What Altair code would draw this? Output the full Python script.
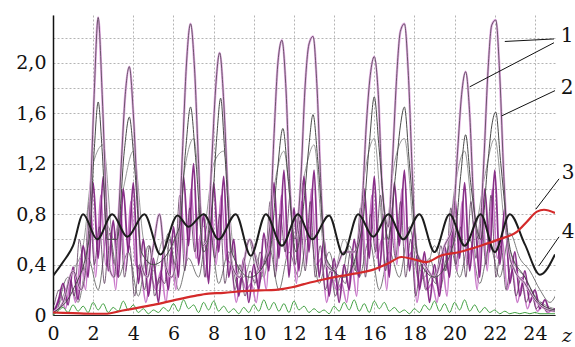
import altair as alt
import pandas as pd

# ---------------- data ----------------
# curve 1: tallest peaks
c1_z = [0, 0.5, 1.0, 1.4, 1.65, 1.85, 2.05, 2.25, 2.45, 2.65, 2.85, 3.05, 3.2, 3.4, 3.6, 3.8, 4.0, 4.2, 4.4,
        4.7, 5.0, 5.3, 5.6, 5.9, 6.25, 6.45, 6.65, 6.85, 7.05, 7.25, 7.45, 7.7, 7.9, 8.1, 8.3, 8.5, 8.7, 8.9,
        9.3, 9.8, 10.3, 10.8, 11.0, 11.2, 11.4, 11.6, 11.8, 12.05, 12.35, 12.55, 12.75, 12.95, 13.15, 13.35,
        13.6, 14.0, 14.5, 15.0, 15.4, 15.6, 15.8, 16.0, 16.2, 16.4, 16.7, 16.9, 17.1, 17.3, 17.5, 17.7, 17.9,
        18.1, 18.5, 19.0, 19.5, 19.9, 20.15, 20.35, 20.55, 20.75, 20.95, 21.2, 21.45, 21.65, 21.85, 22.05,
        22.25, 22.45, 22.7, 23.0, 23.5, 24.0, 24.5, 25.0]
c1_v = [0.02, 0.1, 0.35, 0.2, 0.4, 0.9, 1.75, 2.36, 1.75, 0.9, 0.35, 0.3, 0.6, 1.2, 1.75, 1.97, 1.6, 0.95, 0.4,
        0.3, 0.55, 0.8, 0.4, 0.3, 0.6, 1.3, 2.0, 2.31, 1.95, 1.2, 0.55, 0.6, 1.2, 1.8, 2.08, 1.7, 1.0, 0.4,
        0.3, 0.6, 0.35, 0.7, 1.4, 2.0, 2.18, 1.8, 1.0, 0.6, 1.1, 1.8, 2.15, 2.21, 1.8, 1.0,
        0.4, 0.35, 0.5, 0.5, 0.9, 1.5, 1.9, 2.05, 1.75, 1.0, 0.7, 1.2, 1.85, 2.25, 2.31, 1.9, 1.1,
        0.5, 0.4, 0.3, 0.55, 0.7, 1.3, 1.75, 1.93, 1.6, 0.9, 0.6, 1.2, 1.9, 2.3, 2.34,
        1.9, 1.1, 0.5, 0.35, 0.25, 0.12, 0.05, 0.03]

# curve 2: secondary peaks
c2_z = [0, 1.0, 1.8, 2.05, 2.25, 2.45, 2.7, 3.2, 3.55, 3.8, 4.05, 4.4, 5.0, 6.3, 6.6, 6.85, 7.1, 7.5, 7.9,
        8.15, 8.35, 8.55, 8.9, 9.8, 10.8, 11.15, 11.45, 11.7, 12.1, 12.5, 12.75, 12.95, 13.2, 13.6, 14.5,
        15.4, 15.75, 16.0, 16.25, 16.7, 17.05, 17.3, 17.5, 17.75, 18.2, 19.0, 20.0, 20.3, 20.55, 20.8, 21.3,
        21.65, 21.85, 22.05, 22.3, 22.8, 23.5, 24.2, 25.0]
c2_v = [0.02, 0.2, 0.6, 1.3, 1.69, 1.3, 0.6, 0.6, 1.3, 1.57, 1.2, 0.5, 0.4, 0.7, 1.3, 1.65, 1.25, 0.5, 0.8,
        1.4, 1.72, 1.3, 0.5, 0.3, 0.5, 1.1, 1.48, 1.1, 0.5, 0.9, 1.35, 1.59, 1.2, 0.45, 0.3,
        0.7, 1.35, 1.73, 1.3, 0.6, 1.1, 1.5, 1.65, 1.2, 0.45, 0.3, 0.6, 1.1, 1.43, 1.05, 0.6,
        1.2, 1.5, 1.61, 1.2, 0.5, 0.3, 0.1, 0.04]

# dense purple oscillations (step 0.25 from 0)
p1_v = [0.02, 0.10, 0.25, 0.08, 0.38, 0.12, 0.55, 0.30, 1.05, 0.45, 1.10, 0.35, 0.75, 0.30, 1.00, 0.50,
        1.05, 0.25, 0.60, 0.15, 0.45, 0.10, 0.50, 0.20, 0.70, 0.30, 1.10, 0.55, 1.20, 0.40, 0.80, 0.25,
        1.05, 0.50, 1.10, 0.30, 0.60, 0.15, 0.45, 0.10, 0.40, 0.20, 0.65, 0.35, 1.05, 0.45, 1.15, 0.30,
        0.85, 0.35, 1.10, 0.50, 1.15, 0.30, 0.60, 0.15, 0.45, 0.10, 0.40, 0.20, 0.60, 0.30, 1.00, 0.45,
        1.10, 0.35, 0.80, 0.30, 1.05, 0.55, 1.15, 0.35, 0.70, 0.20, 0.50, 0.10, 0.40, 0.15, 0.55, 0.30,
        0.95, 0.45, 1.05, 0.35, 0.75, 0.30, 1.00, 0.50, 1.15, 0.40, 0.85, 0.25, 0.50, 0.15, 0.35, 0.10,
        0.20, 0.05, 0.12, 0.03, 0.05]
# dense magenta oscillations (step 0.25 from 0.125)
p2_v = [0.05, 0.15, 0.05, 0.28, 0.10, 0.45, 0.20, 0.85, 0.30, 0.95, 0.40, 0.55, 0.20, 0.80, 0.35, 0.90,
        0.40, 0.35, 0.10, 0.30, 0.20, 0.35, 0.10, 0.50, 0.20, 0.90, 0.40, 1.00, 0.45, 0.65, 0.30, 0.85,
        0.40, 0.95, 0.45, 0.40, 0.10, 0.30, 0.20, 0.25, 0.10, 0.45, 0.20, 0.85, 0.35, 0.95, 0.45, 0.65,
        0.25, 0.90, 0.40, 1.00, 0.40, 0.45, 0.10, 0.30, 0.20, 0.25, 0.10, 0.40, 0.15, 0.80, 0.35, 0.95,
        0.45, 0.60, 0.20, 0.85, 0.40, 1.00, 0.45, 0.50, 0.10, 0.35, 0.20, 0.25, 0.10, 0.40, 0.15, 0.80,
        0.35, 0.90, 0.40, 0.55, 0.20, 0.85, 0.35, 1.00, 0.45, 0.60, 0.20, 0.35, 0.10, 0.25, 0.05, 0.15,
        0.03, 0.08, 0.02, 0.04]
# dense dark oscillations (step 0.25 from 0.0625)
p3_v = [0.08, 0.20, 0.10, 0.30, 0.15, 0.60, 0.35, 0.90, 0.40, 0.70, 0.25, 0.65, 0.40, 0.85, 0.30, 0.55,
        0.15, 0.40, 0.20, 0.55, 0.15, 0.30, 0.25, 0.60, 0.40, 0.95, 0.35, 0.85, 0.50, 0.90, 0.30, 0.70,
        0.45, 0.80, 0.25, 0.50, 0.20, 0.40, 0.15, 0.35, 0.25, 0.50, 0.40, 0.90, 0.30, 0.80, 0.50, 0.95,
        0.40, 0.75, 0.35, 0.90, 0.30, 0.55, 0.20, 0.35, 0.15, 0.30, 0.25, 0.50, 0.35, 0.85, 0.30, 0.80,
        0.50, 0.95, 0.35, 0.70, 0.45, 0.90, 0.30, 0.60, 0.15, 0.40, 0.20, 0.30, 0.25, 0.55, 0.35, 0.85,
        0.40, 0.70, 0.30, 0.90, 0.45, 0.80, 0.40, 0.95, 0.30, 0.55, 0.20, 0.40, 0.15, 0.30, 0.10, 0.20,
        0.05, 0.10, 0.03, 0.05]
# grey humps (step 0.5)
g1_v = [0.0, 0.15, 0.35, 0.55, 1.2, 1.35, 0.6, 1.0, 1.3, 0.6, 0.35, 0.6, 0.4, 1.1, 1.4, 0.7, 1.2, 1.3,
        0.5, 0.3, 0.5, 0.3, 1.0, 1.3, 0.7, 1.1, 1.35, 0.5, 0.35, 0.6, 0.4, 1.1, 1.4, 0.6, 1.2, 1.4, 0.6,
        0.3, 0.55, 0.35, 1.0, 1.3, 0.7, 1.1, 1.4, 0.7, 0.4, 0.3, 0.15, 0.08, 0.05]
g2_v = [0.05, 0.3, 0.1, 0.45, 0.2, 0.7, 0.3, 0.5, 0.15, 0.55, 0.25, 0.65, 0.2, 0.45, 0.3, 0.75, 0.25,
        0.5, 0.2, 0.6, 0.25, 0.55, 0.2, 0.5, 0.3, 0.7, 0.25, 0.5, 0.2, 0.55, 0.3, 0.6, 0.2, 0.5, 0.3,
        0.7, 0.25, 0.45, 0.2, 0.55, 0.3, 0.6, 0.25, 0.55, 0.3, 0.65, 0.45, 0.35, 0.2, 0.1, 0.25]
# green low curve (step 0.25)
gr_v = [0.00, 0.03, 0.06, 0.02, 0.08, 0.03, 0.07, 0.02, 0.10, 0.04, 0.09, 0.02, 0.06, 0.03, 0.11, 0.04,
        0.08, 0.02, 0.05, 0.01, 0.04, 0.02, 0.06, 0.03, 0.09, 0.03, 0.12, 0.05, 0.08, 0.02, 0.10, 0.04,
        0.11, 0.03, 0.07, 0.02, 0.05, 0.01, 0.06, 0.02, 0.08, 0.03, 0.12, 0.04, 0.10, 0.03, 0.09, 0.02,
        0.11, 0.04, 0.07, 0.02, 0.05, 0.02, 0.04, 0.01, 0.07, 0.03, 0.10, 0.04, 0.12, 0.03, 0.09, 0.02,
        0.11, 0.05, 0.10, 0.03, 0.06, 0.02, 0.04, 0.01, 0.05, 0.02, 0.08, 0.04, 0.11, 0.03, 0.09, 0.02,
        0.10, 0.04, 0.12, 0.03, 0.08, 0.02, 0.06, 0.02, 0.04, 0.01, 0.03, 0.01, 0.02, 0.01, 0.02, 0.01,
        0.02, 0.01, 0.01, 0.01, 0.01]

# curve 4: thick black oscillation
c4_z = [0, 0.5, 1.0, 1.5, 2.2, 2.95, 3.7, 4.55, 5.35, 6.2, 6.75, 7.5, 8.25, 9.1, 9.85, 10.6, 11.4, 12.2,
        12.9, 13.75, 14.45, 15.2, 15.95, 16.7, 17.45, 18.25, 19.0, 19.75, 20.5, 21.3, 22.0, 22.75, 23.5,
        24.25, 25.0]
c4_v = [0.31, 0.42, 0.55, 0.80, 0.60, 0.80, 0.62, 0.80, 0.48, 0.79, 0.70, 0.80, 0.60, 0.80, 0.47, 0.80,
        0.55, 0.80, 0.60, 0.79, 0.48, 0.80, 0.62, 0.80, 0.60, 0.80, 0.50, 0.80, 0.55, 0.80, 0.50, 0.80,
        0.56, 0.32, 0.48]

# curve 3: red rising
c3_z = [0, 1, 2, 2.7, 3.3, 4, 5, 6.1, 7, 7.75, 8.5, 9.45, 10.3, 11.1, 11.9, 12.5, 13.4, 14.35, 15.1,
        15.95, 16.7, 17.35, 18.0, 18.6, 19.3, 20.25, 21.3, 22.2, 23.1, 23.6, 24.1, 24.45, 25.0]
c3_v = [0.02, 0.015, 0.01, 0.01, 0.03, 0.05, 0.08, 0.12, 0.15, 0.17, 0.175, 0.19, 0.195, 0.2, 0.22,
        0.245, 0.28, 0.31, 0.33, 0.36, 0.41, 0.46, 0.44, 0.42, 0.47, 0.5, 0.55, 0.6, 0.66, 0.74, 0.82,
        0.835, 0.81]

# annotation labels and leader lines
lab_text = ["1", "2", "3", "4"]
lab_z = [25.6, 25.6, 25.65, 25.65]
lab_y = [2.21, 1.80, 1.13, 0.66]
lead_z1 = [24.95, 24.95, 25.0, 25.2, 25.2]
lead_y1 = [2.19, 2.16, 1.78, 1.08, 0.62]
lead_z2 = [22.5, 20.75, 22.35, 24.05, 24.2]
lead_y2 = [2.17, 1.81, 1.58, 0.84, 0.39]

x_ticks = [0, 2, 4, 6, 8, 10, 12, 14, 16, 18, 20, 22, 24]
y_ticks = [0, 0.2, 0.4, 0.6, 0.8, 1.0, 1.2, 1.4, 1.6, 1.8, 2.0, 2.2]

# ---------------- chart ----------------
FONT = "DejaVu Serif"
xs = alt.Scale(domain=[0, 25], nice=False, zero=False)
ys = alt.Scale(domain=[0, 2.38], nice=False)

x_enc = alt.X("z:Q", scale=xs, axis=alt.Axis(
    values=x_ticks, title=None, ticks=False, grid=True, gridColor="#b4b4b4", gridDash=[2, 2],
    gridWidth=1, domainColor="#222", domainWidth=1.2, labelFont=FONT, labelFontSize=19,
    labelColor="#111", labelPadding=9, labelFlush=False))
y_enc = alt.Y("v:Q", scale=ys, axis=alt.Axis(
    values=y_ticks, title=None, ticks=False, grid=True, gridColor="#b4b4b4", gridDash=[2, 2],
    gridWidth=1, domainColor="#111", domainWidth=1.5, labelFont=FONT, labelFontSize=19,
    labelColor="#111", labelPadding=7,
    labelExpr="datum.value == 0 ? '0' : (round(datum.value*10) % 4 == 0 ? replace(format(datum.value, '.1f'), '.', ',') : '')"))


def line(z, v, color, width, opacity=1.0):
    df = pd.DataFrame({"z": z, "v": v})
    return alt.Chart(df).mark_line(color=color, strokeWidth=width, opacity=opacity,
                                   interpolate="monotone", clip=True).encode(x=x_enc, y=y_enc)


def grid_z(vals, start, step):
    return [start + i * step for i in range(len(vals))]


layers = [
    line(grid_z(g1_v, 0, 0.5), g1_v, "#8c8c8c", 0.9),
    line(grid_z(g2_v, 0.25, 0.5), g2_v, "#6a6a6a", 0.9),
    line(grid_z(p2_v, 0.125, 0.25), p2_v, "#c46cc4", 1.6, 0.9),
    line(grid_z(p3_v, 0.0625, 0.25), p3_v, "#5a3a5a", 0.9, 0.9),
    line(grid_z(p1_v, 0, 0.25), p1_v, "#7c1a7c", 1.8, 0.9),
    line(c1_z, c1_v, "#e2aee2", 2.4),
    line(c1_z, c1_v, "#5c4a5c", 0.9),
    line(c2_z, c2_v, "#4a4a4a", 1.0),
    line(grid_z(gr_v, 0, 0.25), gr_v, "#3f9f3f", 1.0),
    line(c4_z, c4_v, "#1c1c1c", 2.0),
    line(c3_z, c3_v, "#d42a2a", 2.2),
]

lead_df = pd.DataFrame({"z": lead_z1, "v": lead_y1, "z2": lead_z2, "v2": lead_y2})
leads = alt.Chart(lead_df).mark_rule(color="#111", strokeWidth=1).encode(
    x=x_enc, y=y_enc, x2="z2:Q", y2="v2:Q")

lab_df = pd.DataFrame({"z": lab_z, "v": lab_y, "t": lab_text})
labels = alt.Chart(lab_df).mark_text(font=FONT, fontSize=20, color="#111", align="center",
                                     baseline="middle").encode(
    x=x_enc, y=y_enc, text="t:N")

zlab_df = pd.DataFrame({"z": [25.6], "v": [-0.17], "t": ["z"]})
zlab = alt.Chart(zlab_df).mark_text(font=FONT, fontSize=19, fontStyle="italic", color="#111",
                                    align="center", baseline="middle").encode(
    x=x_enc, y=y_enc, text="t:N")

chart = alt.layer(*layers, leads, labels, zlab).properties(
    width=502, height=300,
    autosize=alt.AutoSizeParams(type="none"),
    padding={"left": 53, "top": 15, "right": 20, "bottom": 32},
    background="white",
).configure_view(stroke=None).configure_axis(labelFont=FONT, labelFontSize=19)

chart.save("out.html", embed_options={"renderer": "svg", "actions": False})
